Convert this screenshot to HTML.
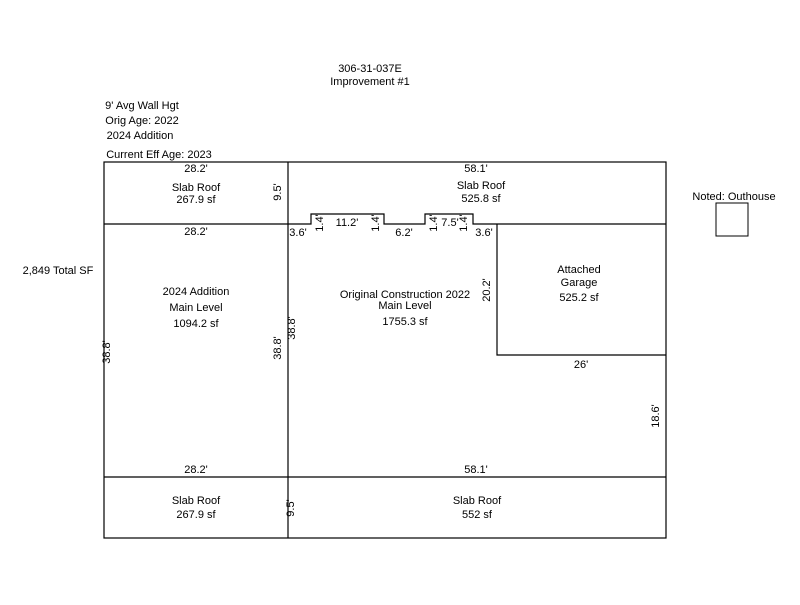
<!DOCTYPE html>
<html><head><style>
body{margin:0;background:#fff;}
svg text{font-family:"Liberation Sans",Arial,sans-serif;font-size:11px;fill:#000;}
</style></head><body>
<svg width="800" height="600" xmlns="http://www.w3.org/2000/svg">
<g stroke="#000" stroke-width="1.2" fill="none">
<rect x="104" y="162" width="562" height="376"/>
<line x1="288" y1="162" x2="288" y2="538"/>
<line x1="104" y1="477" x2="666" y2="477"/>
<polyline points="104,224 311,224 311,214 384,214 384,224 425,224 425,214 473,214 473,224 666,224"/>
<polyline points="497,224 497,355 666,355"/>
<rect x="716" y="203" width="32" height="33" stroke-width="1"/>
</g>
<g text-anchor="middle">
<text x="370" y="72">306-31-037E</text>
<text x="370" y="85">Improvement #1</text>
<text x="142" y="109">9' Avg Wall Hgt</text>
<text x="142" y="124">Orig Age: 2022</text>
<text x="140" y="139">2024 Addition</text>
<text x="159" y="158">Current Eff Age: 2023</text>
<text x="196" y="172">28.2'</text>
<text x="196" y="191">Slab Roof</text>
<text x="196" y="203">267.9 sf</text>
<text x="476" y="172">58.1'</text>
<text x="481" y="189">Slab Roof</text>
<text x="481" y="202">525.8 sf</text>
<text x="734" y="200">Noted:  Outhouse</text>
<text x="196" y="235">28.2'</text>
<text x="298" y="236">3.6'</text>
<text x="347" y="226">11.2'</text>
<text x="404" y="236">6.2'</text>
<text x="450" y="226">7.5'</text>
<text x="484" y="236">3.6'</text>
<text x="58" y="274">2,849 Total SF</text>
<text x="196" y="295">2024 Addition</text>
<text x="196" y="311">Main Level</text>
<text x="196" y="327">1094.2 sf</text>
<text x="405" y="298">Original Construction 2022</text>
<text x="405" y="309">Main Level</text>
<text x="405" y="325">1755.3 sf</text>
<text x="579" y="273">Attached</text>
<text x="579" y="286">Garage</text>
<text x="579" y="301">525.2 sf</text>
<text x="581" y="368">26'</text>
<text x="196" y="473">28.2'</text>
<text x="476" y="473">58.1'</text>
<text x="196" y="504">Slab Roof</text>
<text x="196" y="518">267.9 sf</text>
<text x="477" y="504">Slab Roof</text>
<text x="477" y="518">552 sf</text>
<text transform="translate(281,192) rotate(-90)">9.5'</text>
<text transform="translate(294,508) rotate(-90)">9.5'</text>
<text transform="translate(110,352) rotate(-90)">38.8'</text>
<text transform="translate(281,348) rotate(-90)">38.8'</text>
<text transform="translate(295,328) rotate(-90)">38.8'</text>
<text transform="translate(490,290) rotate(-90)">20.2'</text>
<text transform="translate(659,416) rotate(-90)">18.6'</text>
<text transform="translate(323,223) rotate(-90)">1.4'</text>
<text transform="translate(379,223) rotate(-90)">1.4'</text>
<text transform="translate(437,223) rotate(-90)">1.4'</text>
<text transform="translate(467,223) rotate(-90)">1.4'</text>
</g>
</svg>
</body></html>
